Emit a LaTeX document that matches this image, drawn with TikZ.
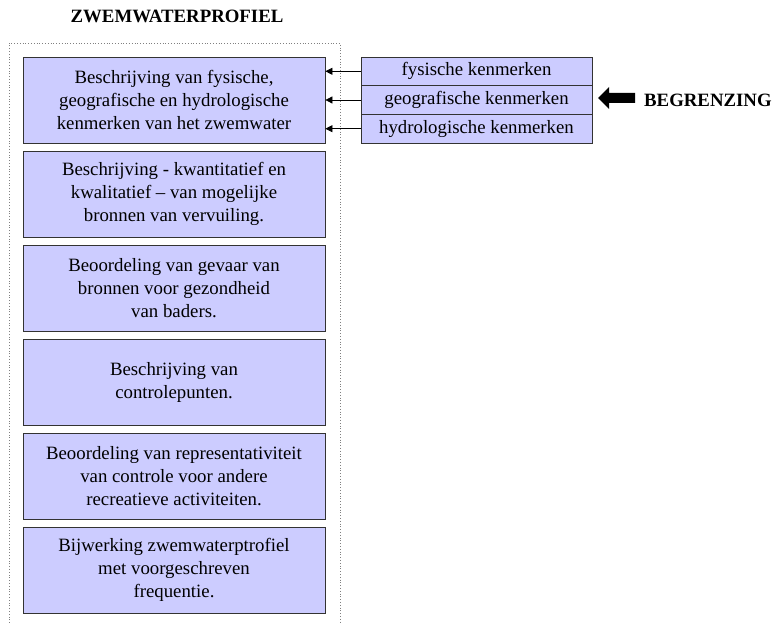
\documentclass[tikz,border=0pt]{standalone}
\usepackage{fontspec}
\setmainfont{Liberation Serif}
\usetikzlibrary{arrows.meta}

\definecolor{lila}{RGB}{204,204,255}

\begin{document}
\begin{tikzpicture}[x=1pt,y=-1pt]
    \useasboundingbox (0,0) rectangle (774,623);

    % dotted frame round the profile
    \draw[gray, dotted, thick] (9,623) -- (9,43) -- (340,43) -- (340,623);

    \node[font=\fontsize{18.8}{22}\selectfont\bfseries] (T) at (177,16) {ZWEMWATERPROFIEL};

    \begin{scope}[every node/.style={fill=lila, draw=black!80, thick, align=center,
                  minimum width=302, minimum height=86, inner sep=0,
                  font=\fontsize{18.8}{23}\selectfont}]
        \node (P1) at (174,100) {\fontsize{18.8}{20.5}\selectfont Beschrijving van fysische,\\ geografische en hydrologische\\ kenmerken van het zwemwater};
        \node (P2) at (174,194) {Beschrijving - kwantitatief en\\ kwalitatief -- van mogelijke\\ bronnen van vervuiling.};
        \node (P3) at (174,288) {Beoordeling van gevaar van\\ bronnen voor gezondheid\\ van baders.};
        \node (P4) at (174,382) {Beschrijving van\\ controlepunten.};
        \node (P5) at (174,476) {Beoordeling van representativiteit\\ van controle voor andere\\ recreatieve activiteiten.};
        \node (P6) at (174,570) {Bijwerking zwemwaterptrofiel\\ met voorgeschreven\\ frequentie.};
    \end{scope}

    \begin{scope}[every node/.style={fill=lila, draw=black!80, thick,
                  minimum width=231, minimum height=28.7, inner sep=0,
                  font=\fontsize{18.8}{20}\selectfont}]
        \node (K1) at (476.5,71.3) {fysische kenmerken};
        \node (K2) at (476.5,100) {geografische kenmerken};
        \node (K3) at (476.5,128.7) {hydrologische kenmerken};
    \end{scope}

    \node[font=\fontsize{18.8}{22}\selectfont\bfseries, anchor=west, inner sep=0] (G) at (644,100) {BEGRENZING};

    \begin{scope}[>={Triangle[length=7pt,width=7pt]}, every path/.style={draw=black, line width=0.8pt}]
        \path [->] (K1.west) -- (K1.west -| P1.east);
        \path [->] (K2.west) -- (K2.west -| P1.east);
        \path [->] (K3.west) -- (K3.west -| P1.east);
    \end{scope}

    % block arrow towards the kenmerken
    \fill[black] (598,98) -- (609,87) -- (609,93) -- (635,93) -- (635,103) -- (609,103) -- (609,109) -- cycle;
\end{tikzpicture}
\end{document}
